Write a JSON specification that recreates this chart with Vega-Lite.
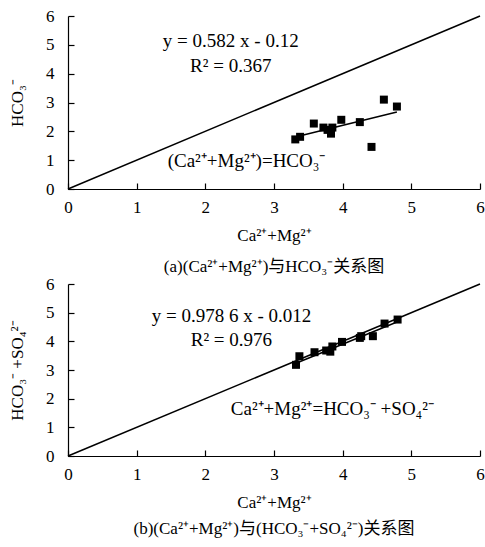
{
  "$schema": "https://vega.github.io/schema/vega-lite/v6.json",
  "padding": {"left": 8, "top": 7, "right": 0, "bottom": 2},
  "spacing": 0,
  "config": {
    "view": {"stroke": null},
    "font": "Liberation Serif, serif",
    "axis": {
      "domainColor": "#000", "domainWidth": 1.2, "tickColor": "#000", "tickWidth": 1.2,
      "tickSize": -6, "grid": false, "labelOverlap": false, "labelFlush": false, "format": "d",
      "labelFont": "Liberation Serif, serif", "labelFontSize": 17, "labelColor": "#000",
      "titleFont": "Liberation Serif, serif", "titleFontSize": 17, "titleFontWeight": 400, "titleColor": "#000"
    },
    "axisX": {"labelPadding": 16, "titlePadding": 12},
    "axisY": {"labelPadding": 20, "titlePadding": 19},
    "title": {"font": "Liberation Serif, Noto Sans CJK SC, serif", "fontSize": 17, "fontWeight": 400, "color": "#000", "orient": "bottom"}
  },
  "datasets": {
    "apts": [
      {"x": 3.31, "y": 1.72}, {"x": 3.38, "y": 1.81}, {"x": 3.58, "y": 2.27}, {"x": 3.72, "y": 2.13},
      {"x": 3.78, "y": 2.05}, {"x": 3.85, "y": 2.13}, {"x": 3.83, "y": 1.92}, {"x": 3.98, "y": 2.40},
      {"x": 4.25, "y": 2.32}, {"x": 4.42, "y": 1.46}, {"x": 4.60, "y": 3.10}, {"x": 4.79, "y": 2.86}
    ],
    "alines": [
      {"s": "one", "x": 0, "y": 0}, {"s": "one", "x": 6, "y": 6},
      {"s": "fit", "x": 3.31, "y": 1.806}, {"s": "fit", "x": 4.79, "y": 2.668}
    ],
    "atext": [
      {"t": "y = 0.582 x - 0.12", "x": 2.37, "y": 5.13},
      {"t": "R² = 0.367", "x": 2.37, "y": 4.27},
      {"t": "(Ca²⁺+Mg²⁺)=HCO₃⁻", "x": 2.6, "y": 0.98}
    ],
    "bpts": [
      {"x": 3.32, "y": 3.18}, {"x": 3.37, "y": 3.48}, {"x": 3.59, "y": 3.62}, {"x": 3.76, "y": 3.68},
      {"x": 3.82, "y": 3.64}, {"x": 3.85, "y": 3.82}, {"x": 3.99, "y": 3.98}, {"x": 4.25, "y": 4.12},
      {"x": 4.27, "y": 4.18}, {"x": 4.44, "y": 4.18}, {"x": 4.61, "y": 4.62}, {"x": 4.80, "y": 4.76}
    ],
    "blines": [
      {"s": "one", "x": 0, "y": 0}, {"s": "one", "x": 6, "y": 6},
      {"s": "fit", "x": 3.32, "y": 3.237}, {"s": "fit", "x": 4.80, "y": 4.685}
    ],
    "btext": [
      {"t": "y = 0.978 6 x - 0.012", "x": 2.38, "y": 4.89},
      {"t": "R² = 0.976", "x": 2.38, "y": 4.06},
      {"t": "Ca²⁺+Mg²⁺=HCO₃⁻ +SO₄²⁻", "x": 3.85, "y": 1.65}
    ]
  },
  "vconcat": [
    {
      "width": 412, "height": 173,
      "title": {"text": "(a)(Ca²⁺+Mg²⁺)与HCO₃⁻关系图", "fontWeight": 400, "offset": 16},
      "encoding": {
        "x": {"field": "x", "type": "quantitative", "scale": {"domain": [0, 6], "nice": false}, "axis": {"title": "Ca²⁺+Mg²⁺", "titleFontWeight": 400, "values": [0,1,2,3,4,5,6], "labelOverlap": false}},
        "y": {"field": "y", "type": "quantitative", "scale": {"domain": [0, 6], "nice": false}, "axis": {"title": "HCO₃⁻", "titleFontWeight": 400, "values": [0,1,2,3,4,5,6], "labelOverlap": false}}
      },
      "layer": [
        {
          "data": {"name": "alines"},
          "mark": {"type": "line", "color": "#000", "strokeWidth": 1.5},
          "encoding": {"detail": {"field": "s"}}
        },
        {
          "data": {"name": "apts"},
          "mark": {"type": "square", "color": "#000", "opacity": 1, "size": 64}
        },
        {
          "data": {"name": "atext"},
          "mark": {"type": "text", "fontSize": 19, "color": "#000"},
          "encoding": {"text": {"field": "t"}}
        }
      ]
    },
    {
      "width": 412, "height": 172,
      "title": {"text": "(b)(Ca²⁺+Mg²⁺)与(HCO₃⁻+SO₄²⁻)关系图", "fontWeight": 400, "offset": 11},
      "encoding": {
        "x": {"field": "x", "type": "quantitative", "scale": {"domain": [0, 6], "nice": false}, "axis": {"title": "Ca²⁺+Mg²⁺", "titleFontWeight": 400, "values": [0,1,2,3,4,5,6], "labelOverlap": false}},
        "y": {"field": "y", "type": "quantitative", "scale": {"domain": [0, 6], "nice": false}, "axis": {"title": "HCO₃⁻ +SO₄²⁻", "titleFontWeight": 400, "values": [0,1,2,3,4,5,6], "labelOverlap": false}}
      },
      "layer": [
        {
          "data": {"name": "blines"},
          "mark": {"type": "line", "color": "#000", "strokeWidth": 1.5},
          "encoding": {"detail": {"field": "s"}}
        },
        {
          "data": {"name": "bpts"},
          "mark": {"type": "square", "color": "#000", "opacity": 1, "size": 64}
        },
        {
          "data": {"name": "btext"},
          "mark": {"type": "text", "fontSize": 19, "color": "#000"},
          "encoding": {"text": {"field": "t"}}
        }
      ]
    }
  ]
}
